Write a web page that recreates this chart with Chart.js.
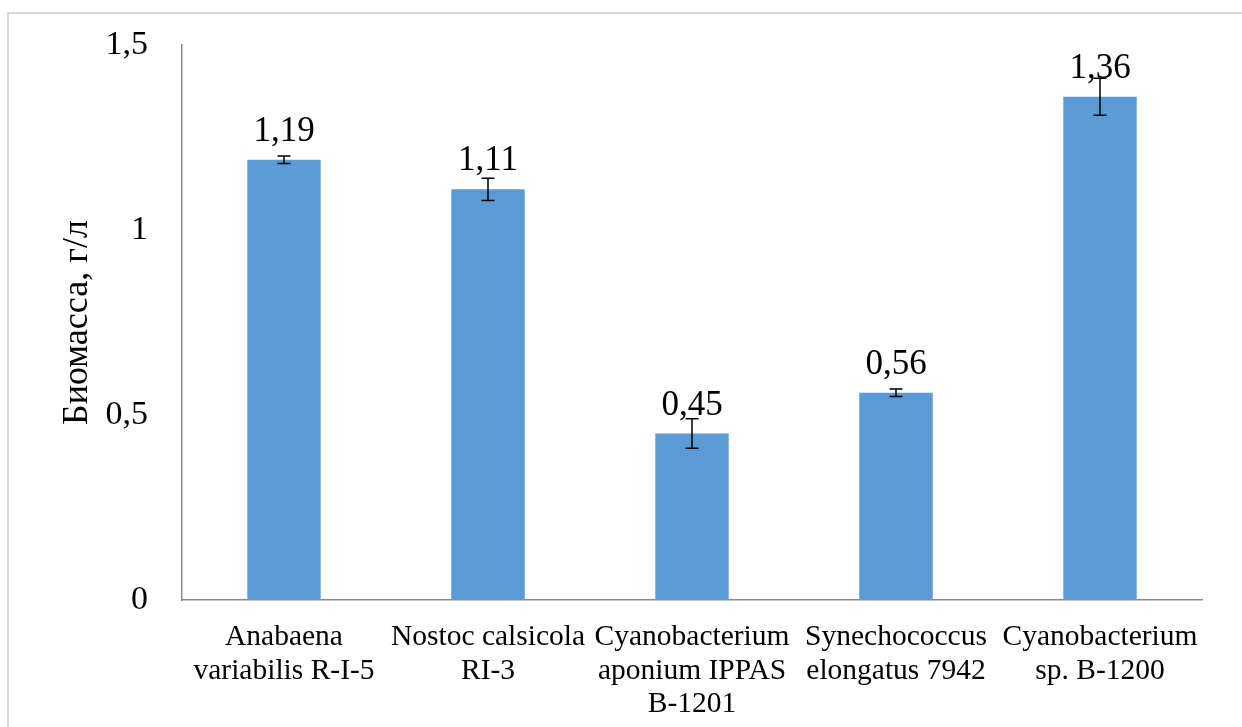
<!DOCTYPE html>
<html>
<head>
<meta charset="utf-8">
<script src="https://cdn.jsdelivr.net/npm/chart.js@4.4.1/dist/chart.umd.min.js"></script>
<style>
  html, body { margin: 0; padding: 0; background: #fff; }
  #wrap { width: 1242px; height: 727px; }
</style>
</head>
<body>
<div id="wrap"><canvas id="chart" width="1242" height="727"></canvas></div>
<script>
// --- data ---
const categories = [
    ['Anabaena', 'variabilis R-I-5'],
    ['Nostoc calsicola', 'RI-3'],
    ['Cyanobacterium', 'aponium IPPAS', 'B-1201'],
    ['Synechococcus', 'elongatus 7942'],
    ['Cyanobacterium', 'sp. B-1200']
];
const biomass = [1.19, 1.11, 0.45, 0.56, 1.36];
const biomassErr = [0.01, 0.03, 0.04, 0.01, 0.05];
const yTicks = [0, 0.5, 1, 1.5];

const fmt = v => String(v).replace('.', ',');
const SERIF = "'Liberation Serif', 'Times New Roman', serif";

// light grey frame around the chart
const framePlugin = {
    id: 'frame',
    beforeDraw(chart) {
        const ctx = chart.ctx;
        ctx.save();
        ctx.strokeStyle = '#d9d9d9';
        ctx.lineWidth = 2;
        ctx.strokeRect(8, 13, 1250, 730);
        ctx.restore();
    }
};

// error bars + value labels
const barExtras = {
    id: 'barExtras',
    afterDatasetsDraw(chart) {
        const ctx = chart.ctx;
        const y = chart.scales.y;
        const meta = chart.getDatasetMeta(0);
        ctx.save();
        meta.data.forEach((bar, i) => {
            const v = biomass[i], e = biomassErr[i];
            const yTop = y.getPixelForValue(v + e);
            const yBot = y.getPixelForValue(v - e);
            ctx.strokeStyle = '#000';
            ctx.lineWidth = 1.5;
            ctx.beginPath();
            ctx.moveTo(bar.x, yTop); ctx.lineTo(bar.x, yBot);
            ctx.moveTo(bar.x - 6.5, yTop); ctx.lineTo(bar.x + 6.5, yTop);
            ctx.moveTo(bar.x - 6.5, yBot); ctx.lineTo(bar.x + 6.5, yBot);
            ctx.stroke();

            ctx.fillStyle = '#000';
            ctx.font = '35px ' + SERIF;
            ctx.textAlign = 'center';
            ctx.textBaseline = 'alphabetic';
            ctx.fillText(fmt(v), bar.x, bar.y - 19);
        });
        ctx.restore();
    }
};

new Chart(document.getElementById('chart'), {
    type: 'bar',
    data: {
        labels: categories,
        datasets: [{
            data: biomass,
            backgroundColor: '#5b9bd5',
            borderWidth: 0,
            categoryPercentage: 1,
            barPercentage: 0.36
        }]
    },
    options: {
        responsive: false,
        animation: false,
        devicePixelRatio: 1,
        layout: { padding: { left: 8, top: 45, right: 40, bottom: 0 } },
        plugins: { legend: { display: false }, tooltip: { enabled: false } },
        scales: {
            x: {
                grid: { display: false, drawTicks: false },
                border: { color: '#898989', width: 1.5 },
                ticks: {
                    color: '#000',
                    font: { family: SERIF, size: 29.5, lineHeight: 1.13 },
                    padding: 21,
                    autoSkip: false,
                    maxRotation: 0,
                    minRotation: 0
                },
                afterFit(scale) { scale.height = 127; }
            },
            y: {
                min: 0,
                max: 1.5,
                afterBuildTicks(scale) { scale.ticks = yTicks.map(v => ({ value: v })); },
                // invisible tick marks give the label gap without padding the top
                grid: { display: false, drawTicks: true, tickLength: 34, tickColor: 'rgba(0,0,0,0)' },
                border: { color: '#898989', width: 1.5 },
                ticks: {
                    color: '#000',
                    font: { family: SERIF, size: 34 },
                    padding: 0,
                    callback: v => fmt(v)
                },
                title: {
                    display: true,
                    text: 'Биомасса, г/л',
                    color: '#000',
                    font: { family: SERIF, size: 36 },
                    padding: { top: 48, bottom: 0 }
                },
                afterFit(scale) { scale.width = 174; }
            }
        }
    },
    plugins: [framePlugin, barExtras]
});
</script>
</body>
</html>
